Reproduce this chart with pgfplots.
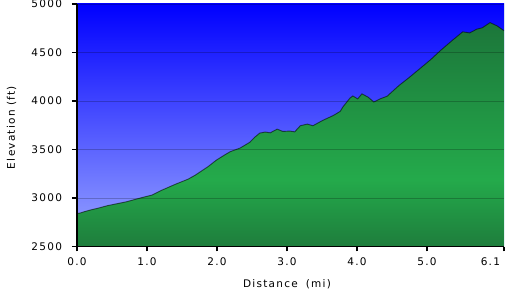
\documentclass[border=0pt]{standalone}
\usepackage{pgfplots}
\pgfplotsset{compat=1.18}
\usepackage{pgfplotstable}
\usepackage{fontspec}
\setmainfont{DejaVu Sans}[LetterSpace=12]

\definecolor{gdark}{RGB}{30,125,60}
\definecolor{gtop}{RGB}{28,118,58}
\definecolor{gbright}{RGB}{36,170,75}
\definecolor{bluetop}{RGB}{0,0,255}
\definecolor{bluebot}{RGB}{155,168,255}
\definecolor{edgegreen}{RGB}{140,215,160}
\pgfdeclareverticalshading{greenfill}{100bp}{color(0bp)=(gdark); color(25bp)=(gdark); color(40bp)=(gbright); color(75bp)=(gtop); color(100bp)=(gtop)}

\newcommand\lbl{\fontsize{10.5bp}{12bp}\selectfont}

\pgfplotstableread{
d e
0.00 2840
0.05 2846
0.10 2858
0.20 2878
0.30 2895
0.44 2922
0.70 2960
0.93 3005
1.07 3030
1.21 3080
1.40 3140
1.59 3195
1.69 3236
1.87 3322
1.99 3390
2.11 3444
2.19 3478
2.33 3515
2.47 3575
2.54 3627
2.61 3669
2.69 3680
2.76 3672
2.86 3710
2.94 3686
3.04 3690
3.11 3682
3.19 3745
3.29 3762
3.37 3745
3.51 3800
3.66 3850
3.76 3893
3.80 3940
3.90 4030
3.94 4052
4.01 4022
4.07 4074
4.16 4039
4.24 3990
4.33 4022
4.43 4049
4.60 4160
4.75 4245
4.90 4335
5.05 4425
5.20 4525
5.35 4618
5.51 4713
5.61 4702
5.71 4740
5.79 4755
5.90 4808
6.00 4775
6.07 4740
6.10 4725
}\profile

\pgfplotstableread{
d e
0.00 2500
0.00 2840
0.05 2846
0.10 2858
0.20 2878
0.30 2895
0.44 2922
0.70 2960
0.93 3005
1.07 3030
1.21 3080
1.40 3140
1.59 3195
1.69 3236
1.87 3322
1.99 3390
2.11 3444
2.19 3478
2.33 3515
2.47 3575
2.54 3627
2.61 3669
2.69 3680
2.76 3672
2.86 3710
2.94 3686
3.04 3690
3.11 3682
3.19 3745
3.29 3762
3.37 3745
3.51 3800
3.66 3850
3.76 3893
3.80 3940
3.90 4030
3.94 4052
4.01 4022
4.07 4074
4.16 4039
4.24 3990
4.33 4022
4.43 4049
4.60 4160
4.75 4245
4.90 4335
5.05 4425
5.20 4525
5.35 4618
5.51 4713
5.61 4702
5.71 4740
5.79 4755
5.90 4808
6.00 4775
6.07 4740
6.10 4725
6.10 2500
}\fillprof

\begin{document}
\begin{tikzpicture}
\useasboundingbox (0,0) rectangle (508bp,299bp);
\begin{axis}[
  at={(77bp,52.5bp)}, anchor=south west,
  scale only axis, width=427bp, height=242.5bp,
  axis lines=left,
  axis line style={-, line width=1.6bp, black},
  xmin=0, xmax=6.1, ymin=2500, ymax=5000,
  xtick={0,1,2,3,4,5,6.1},
  xticklabels={0.0,1.0,2.0,3.0,4.0,5.0,\makebox[0pt][r]{6.1\hspace{4bp}}},
  ytick={2500,3000,3500,4000,4500,5000},
  tick align=outside,
  major tick length=5bp,
  tick style={black, line width=1.2bp},
  ymajorgrids,
  grid style={black, opacity=0.22, line width=0.8bp},
  axis on top,
  axis background/.style={top color=bluetop, bottom color=bluebot},
  ticklabel style={font=\lbl},
  xticklabel style={yshift=-3bp},
  yticklabel style={xshift=-6.5bp},
  /pgf/number format/assume math mode=true,
  /pgf/number format/set thousands separator={},
  xlabel={Distance\hspace{8bp}(mi)},
  ylabel={Elevation (ft)},
  label style={font=\lbl},
  xlabel style={at={(axis description cs:0.4918,-0.1546)}, anchor=center},
  ylabel style={at={(axis description cs:-0.1534,0.4907)}, anchor=center},
  no marks,
]
\addplot[draw=none, shading=greenfill] table[x=d,y=e] {\fillprof};
\addplot[draw=black, draw opacity=0.55, line width=0.9bp] table[x=d,y=e] {\profile};
\draw[edgegreen, line width=1bp] (rel axis cs:1,0) -- (rel axis cs:1,1);
\end{axis}
\end{tikzpicture}
\end{document}
